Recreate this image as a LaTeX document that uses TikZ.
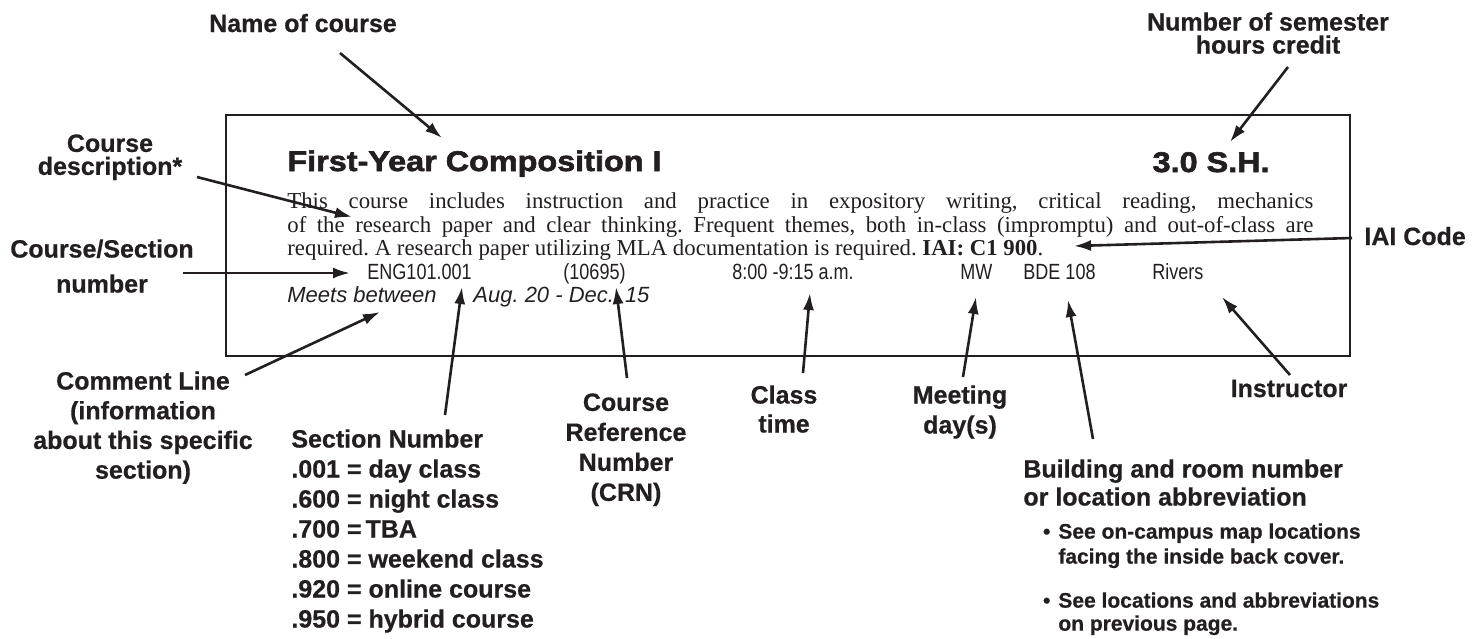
\documentclass[tikz,border=0pt]{standalone}
\usepackage{fontspec}
\setmainfont{Liberation Serif}
\newfontfamily\lblfont[BoldFeatures={FakeBold=0.6}]{Liberation Sans}
\newfontfamily\rowfont[FakeStretch=0.82]{Liberation Sans}
\newfontfamily\headfont[FakeStretch=1.14,BoldFeatures={FakeBold=2.2}]{Liberation Sans}
\usetikzlibrary{arrows.meta}
\definecolor{ink}{RGB}{35,31,32}
\frenchspacing
\tikzset{
  lbl/.style={font=\lblfont\bfseries\fontsize{12.5}{#1}\selectfont, text=ink, inner sep=0pt, align=center},
  lbl/.default=15,
  bul/.style={font=\lblfont\bfseries\fontsize{10.5}{#1}\selectfont, text=ink, inner sep=0pt, align=left, anchor=north west},
  bul/.default=12.5,
  row/.style={font=\rowfont\fontsize{11}{13}\selectfont, text=ink, inner sep=0pt, anchor=base west},
  ptr/.style={draw=ink, line width=1.3pt, -{Latex[length=8.5pt,width=5.5pt]}},
}

\begin{document}
\begin{tikzpicture}[x=0.5pt,y=-0.5pt]
      \useasboundingbox (0,0) rectangle (1479,638);
      \draw[ink, line width=0.8pt] (226,115) rectangle (1350,356);
      \node[anchor=base west, inner sep=0pt, text=ink, font=\headfont\bfseries\fontsize{14.2}{16}\selectfont] (title) at (287,171) {First-Year Composition I};
      \node[anchor=base east, inner sep=0pt, text=ink, font=\headfont\bfseries\fontsize{14.2}{16}\selectfont] (credit) at (1270,172) {3.0 S.H.};
      \node[anchor=north west, inner sep=0pt, align=left, text=ink, font=\fontsize{11.4}{11.9}\selectfont] (descr) at (287,192)
        {\makebox[513pt][s]{This course includes instruction and practice in expository writing, critical reading, mechanics}\\
         \makebox[513pt][s]{of the research paper and clear thinking. Frequent themes, both in-class (impromptu) and out-of-class are}\\
         required. A research paper utilizing MLA documentation is required. \textbf{IAI: C1 900}.};
      \node[row] (eng) at (367,279) {ENG101.001};
      \node[row] (crnnum) at (563,279) {(10695)};
      \node[row] (hours) at (732,279) {8:00 -9:15 a.m.};
      \node[row] (days) at (960,279) {MW};
      \node[row] (room) at (1023,279) {BDE 108};
      \node[row] (instr) at (1152,279) {Rivers};
      \node[anchor=base west, inner sep=0pt, text=ink, font=\lblfont\itshape\fontsize{11}{13}\selectfont] (meets) at (287,302) {Meets between};
      \node[anchor=base west, inner sep=0pt, text=ink, font=\lblfont\itshape\fontsize{11}{13}\selectfont] (dates) at (473,302) {Aug. 20 - Dec.\hspace{5.5pt}15};

      \node[lbl, anchor=base] (name) at (303,32) {Name of course};
      \node[lbl=11.5, anchor=north] (credits) at (1268,12) {Number of semester\\hours credit};
      \node[lbl=11.5, anchor=north] (desc) at (110,134) {Course\\description*};
      \node[lbl=17.5, anchor=north] (secnum) at (102,239) {Course/Section\\number};
      \node[lbl=14.85, anchor=north] (comment) at (143,371) {Comment Line\\(information\\about this specific\\section)};
      \node[lbl, anchor=north west, align=left] (sections) at (291,429)
        {Section Number\\.001 = day class\\.600 = night class\\.700 =\hspace{2pt}TBA\\.800 = weekend class\\.920 = online course\\.950 = hybrid course};
      \node[lbl, anchor=north] (crnlbl) at (626,393) {Course\\Reference\\Number\\(CRN)};
      \node[lbl=14.5, anchor=north] (classlbl) at (784,385) {Class\\time};
      \node[lbl, anchor=north] (daylbl) at (960,385) {Meeting\\day(s)};
      \node[lbl, anchor=base] (instrlbl) at (1289,397) {Instructor};
      \node[lbl=14, anchor=north west, align=left] (bldg) at (1023,459) {Building and room number\\or location abbreviation};
      \node[bul] (see1) at (1058,523) {\llap{•\hspace{4pt}}See on-campus map locations\\facing the inside back cover.};
      \node[bul=11.5] (see2) at (1058,592) {\llap{•\hspace{4pt}}See locations and abbreviations\\on previous page.};
      \node[lbl, anchor=base west] (iai) at (1364,245) {IAI Code};

      \coordinate (name-t) at (340,53);    \coordinate (name-h) at (442,138);
      \coordinate (cred-t) at (1288,67);   \coordinate (cred-h) at (1230,142);
      \coordinate (desc-t) at (197,177);   \coordinate (desc-h) at (352,217);
      \coordinate (sec-t) at (183,273);    \coordinate (sec-h) at (350,273);
      \coordinate (com-t) at (245,375);    \coordinate (com-h) at (380,312);
      \coordinate (num-t) at (445,415);    \coordinate (num-h) at (462,287);
      \coordinate (crn-t) at (627,378);    \coordinate (crn-h) at (616,287);
      \coordinate (time-t) at (803,373);   \coordinate (time-h) at (810,293);
      \coordinate (day-t) at (963,377);    \coordinate (day-h) at (976,297);
      \coordinate (room-t) at (1093,439);  \coordinate (room-h) at (1068,300);
      \coordinate (ins-t) at (1290,375);   \coordinate (ins-h) at (1222,297);
      \coordinate (iai-t) at (1352,238);   \coordinate (iai-h) at (1074,246);
      \foreach \c in {name,cred,desc,sec,com,num,crn,time,day,room,ins,iai}
        \draw[ptr] (\c-t) -- (\c-h);
\end{tikzpicture}
\end{document}
